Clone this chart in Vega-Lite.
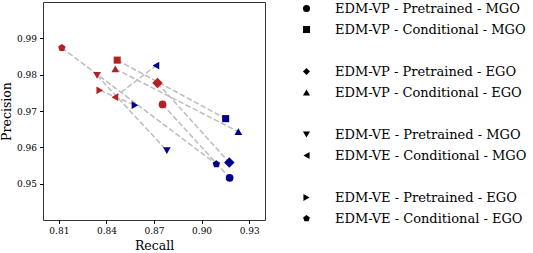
{
  "$schema": "https://vega.github.io/schema/vega-lite/v6.json",
  "width": 222,
  "height": 218,
  "autosize": {"type": "none"},
  "padding": {"left": 43, "top": 2, "right": 268, "bottom": 33},
  "background": "white",
  "config": {
    "view": {"stroke": "#333333", "strokeWidth": 1},
    "font": "DejaVu Serif"
  },
  "data": {
    "values": [
      {"method": "EDM-VP - Pretrained - MGO", "group": "A", "recall": 0.8754, "precision": 0.9718},
      {"method": "EDM-VP - Pretrained - MGO", "group": "B", "recall": 0.9177, "precision": 0.9516},
      {"method": "EDM-VP - Conditional - MGO", "group": "A", "recall": 0.8468, "precision": 0.9840},
      {"method": "EDM-VP - Conditional - MGO", "group": "B", "recall": 0.9152, "precision": 0.9679},
      {"method": "EDM-VP - Pretrained - EGO", "group": "A", "recall": 0.8722, "precision": 0.9777},
      {"method": "EDM-VP - Pretrained - EGO", "group": "B", "recall": 0.9175, "precision": 0.9558},
      {"method": "EDM-VP - Conditional - EGO", "group": "A", "recall": 0.8456, "precision": 0.9816},
      {"method": "EDM-VP - Conditional - EGO", "group": "B", "recall": 0.9232, "precision": 0.9643},
      {"method": "EDM-VE - Pretrained - MGO", "group": "A", "recall": 0.8341, "precision": 0.9798},
      {"method": "EDM-VE - Pretrained - MGO", "group": "B", "recall": 0.8781, "precision": 0.9591},
      {"method": "EDM-VE - Conditional - MGO", "group": "A", "recall": 0.8453, "precision": 0.9738},
      {"method": "EDM-VE - Conditional - MGO", "group": "B", "recall": 0.8712, "precision": 0.9825},
      {"method": "EDM-VE - Pretrained - EGO", "group": "A", "recall": 0.8358, "precision": 0.9757},
      {"method": "EDM-VE - Pretrained - EGO", "group": "B", "recall": 0.8580, "precision": 0.9716},
      {"method": "EDM-VE - Conditional - EGO", "group": "A", "recall": 0.8119, "precision": 0.9874},
      {"method": "EDM-VE - Conditional - EGO", "group": "B", "recall": 0.9093, "precision": 0.9554}
    ]
  },
  "encoding": {
    "x": {
      "field": "recall", "type": "quantitative",
      "scale": {"domain": [0.80, 0.94], "nice": false, "zero": false},
      "axis": {
        "title": "Recall", "values": [0.81, 0.84, 0.87, 0.90, 0.93], "format": ".2f",
        "grid": false, "domain": false, "tickSize": 3.5, "tickColor": "#000000",
        "labelFont": "DejaVu Serif", "labelFontSize": 9, "labelColor": "#000000", "labelPadding": 3,
        "titleFont": "DejaVu Serif", "titleFontSize": 12.5, "titleFontWeight": "normal", "titleColor": "#000000", "titlePadding": 4
      }
    },
    "y": {
      "field": "precision", "type": "quantitative",
      "scale": {"domain": [0.94, 1.0], "nice": false, "zero": false},
      "axis": {
        "title": "Precision", "values": [0.95, 0.96, 0.97, 0.98, 0.99], "format": ".2f",
        "grid": false, "domain": false, "tickSize": 3.5, "tickColor": "#000000",
        "labelFont": "DejaVu Serif", "labelFontSize": 9, "labelColor": "#000000", "labelPadding": 3,
        "titleFont": "DejaVu Serif", "titleFontSize": 12.5, "titleFontWeight": "normal", "titleColor": "#000000", "titlePadding": 3
      }
    }
  },
  "layer": [
    {
      "mark": {"type": "line", "color": "#bdbdbd", "strokeWidth": 1.5, "strokeDash": [5.5, 2.4]},
      "encoding": {
        "detail": {"field": "method", "type": "nominal"},
        "order": {"field": "group", "type": "nominal"}
      }
    },
    {
      "mark": {"type": "point", "filled": true, "opacity": 1},
      "encoding": {
        "color": {
          "field": "group", "type": "nominal",
          "scale": {"domain": ["A", "B"], "range": ["#b22222", "#00008b"]},
          "legend": null
        },
        "size": {
          "field": "method", "type": "nominal",
          "scale": {
            "type": "ordinal",
            "domain": [
              "EDM-VP - Pretrained - MGO", "EDM-VP - Conditional - MGO",
              "EDM-VP - Pretrained - EGO", "EDM-VP - Conditional - EGO",
              "EDM-VE - Pretrained - MGO", "EDM-VE - Conditional - MGO",
              "EDM-VE - Pretrained - EGO", "EDM-VE - Conditional - EGO"
            ],
            "range": [60, 50, 110, 60, 60, 60, 60, 60]
          },
          "legend": null
        },
        "shape": {
          "field": "method", "type": "nominal",
          "scale": {
            "domain": [
              "EDM-VP - Pretrained - MGO", "EDM-VP - Conditional - MGO", " ",
              "EDM-VP - Pretrained - EGO", "EDM-VP - Conditional - EGO", "  ",
              "EDM-VE - Pretrained - MGO", "EDM-VE - Conditional - MGO", "   ",
              "EDM-VE - Pretrained - EGO", "EDM-VE - Conditional - EGO"
            ],
            "range": [
              "circle", "square", "M0,0",
              "diamond", "triangle-up", "M0,0",
              "triangle-down", "triangle-left", "M0,0",
              "triangle-right", "M0,-1L0.951,-0.309L0.588,0.809L-0.588,0.809L-0.951,-0.309Z"
            ]
          },
          "legend": {
            "title": null, "orient": "none", "legendX": 257, "legendY": 0,
            "symbolFillColor": "#000000", "symbolStrokeColor": "#000000", "symbolSize": 50, "symbolStrokeWidth": 0,
            "labelFont": "DejaVu Serif", "labelFontSize": 13, "labelColor": "#000000", "labelOffset": 22,
            "rowPadding": 7, "labelLimit": 300
          }
        }
      }
    }
  ]
}
